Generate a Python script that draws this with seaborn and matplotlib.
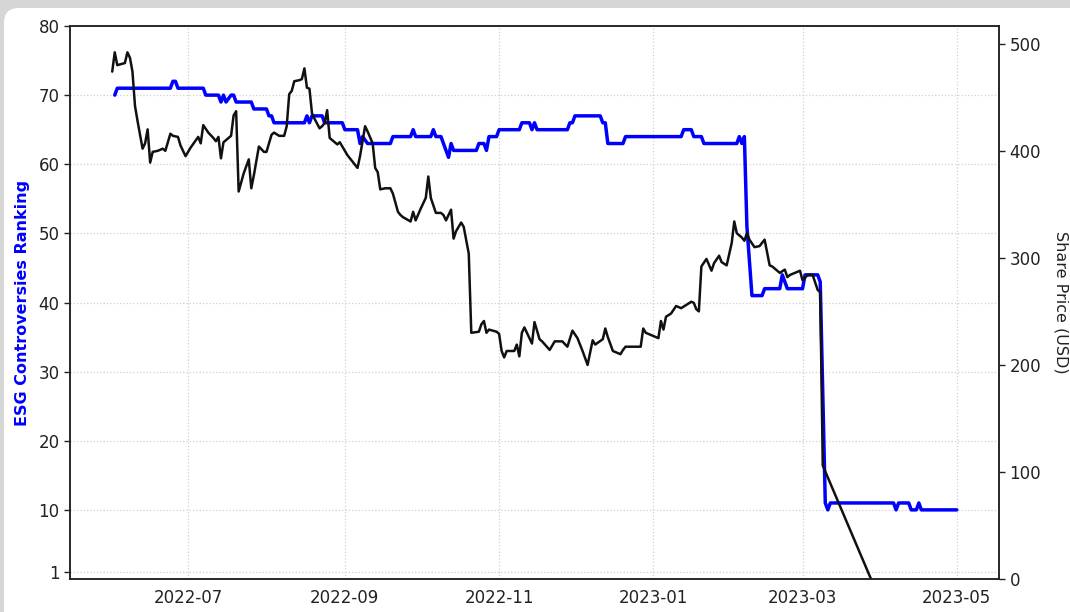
import matplotlib
matplotlib.use("Agg")
import matplotlib.pyplot as plt
import matplotlib.dates as mdates
from matplotlib.patches import FancyBboxPatch
import pandas as pd
import seaborn as sns

# share price (USD)
price_dates = [
    "2022-06-01", "2022-06-02", "2022-06-03", "2022-06-06", "2022-06-07", "2022-06-08",
    "2022-06-09", "2022-06-10", "2022-06-11", "2022-06-13", "2022-06-14", "2022-06-15",
    "2022-06-16", "2022-06-17", "2022-06-19", "2022-06-21", "2022-06-22", "2022-06-24",
    "2022-06-25", "2022-06-27", "2022-06-28", "2022-06-30", "2022-07-02", "2022-07-05",
    "2022-07-06", "2022-07-07", "2022-07-09", "2022-07-11", "2022-07-12", "2022-07-13",
    "2022-07-14", "2022-07-15", "2022-07-18", "2022-07-19", "2022-07-20", "2022-07-21",
    "2022-07-23", "2022-07-25", "2022-07-26", "2022-07-27", "2022-07-29", "2022-07-31",
    "2022-08-01", "2022-08-03", "2022-08-04", "2022-08-06", "2022-08-08", "2022-08-09",
    "2022-08-10", "2022-08-11", "2022-08-12", "2022-08-14", "2022-08-15", "2022-08-16",
    "2022-08-17", "2022-08-18", "2022-08-19", "2022-08-20", "2022-08-22", "2022-08-23",
    "2022-08-24", "2022-08-25", "2022-08-26", "2022-08-28", "2022-08-29", "2022-08-30",
    "2022-08-31", "2022-09-02", "2022-09-04", "2022-09-06", "2022-09-07", "2022-09-09",
    "2022-09-10", "2022-09-12", "2022-09-13", "2022-09-14", "2022-09-15", "2022-09-17",
    "2022-09-19", "2022-09-20", "2022-09-22", "2022-09-23", "2022-09-24", "2022-09-27",
    "2022-09-28", "2022-09-29", "2022-10-01", "2022-10-03", "2022-10-04", "2022-10-05",
    "2022-10-07", "2022-10-09", "2022-10-10", "2022-10-11", "2022-10-13", "2022-10-14",
    "2022-10-15", "2022-10-17", "2022-10-18", "2022-10-20", "2022-10-21", "2022-10-24",
    "2022-10-25", "2022-10-26", "2022-10-27", "2022-10-28", "2022-10-31", "2022-11-01",
    "2022-11-02", "2022-11-03", "2022-11-04", "2022-11-07", "2022-11-08", "2022-11-09",
    "2022-11-10", "2022-11-11", "2022-11-14", "2022-11-15", "2022-11-17", "2022-11-18",
    "2022-11-21", "2022-11-23", "2022-11-26", "2022-11-28", "2022-11-30", "2022-12-02",
    "2022-12-04", "2022-12-06", "2022-12-08", "2022-12-09", "2022-12-12", "2022-12-13",
    "2022-12-14", "2022-12-16", "2022-12-19", "2022-12-20", "2022-12-21", "2022-12-22",
    "2022-12-27", "2022-12-28", "2022-12-29", "2022-12-31", "2023-01-03", "2023-01-04",
    "2023-01-05", "2023-01-06", "2023-01-08", "2023-01-10", "2023-01-12", "2023-01-14",
    "2023-01-16", "2023-01-17", "2023-01-18", "2023-01-19", "2023-01-20", "2023-01-22",
    "2023-01-24", "2023-01-25", "2023-01-27", "2023-01-28", "2023-01-30", "2023-02-01",
    "2023-02-02", "2023-02-03", "2023-02-05", "2023-02-06", "2023-02-07", "2023-02-08",
    "2023-02-10", "2023-02-12", "2023-02-14", "2023-02-16", "2023-02-17", "2023-02-19",
    "2023-02-20", "2023-02-22", "2023-02-23", "2023-02-24", "2023-02-28", "2023-03-01",
    "2023-03-03", "2023-03-05", "2023-03-07", "2023-03-08", "2023-03-09", "2023-03-28",
]
price_values = [
    474, 492, 480, 482, 492, 487,
    474, 442, 428, 402, 407, 420,
    389, 399, 400, 402, 400, 416,
    414, 413, 405, 395, 403, 413,
    407, 424, 417, 412, 409, 413,
    393, 408, 414, 433, 437, 362,
    379, 392, 365, 377, 404, 399,
    399, 415, 417, 414, 414, 423,
    453, 456, 465, 466, 467, 477,
    459, 458, 435, 430, 421, 423,
    426, 438, 412, 408, 406, 408,
    404, 396, 390, 384, 395, 423,
    418, 407, 384, 380, 364, 365,
    365, 360, 343, 340, 338, 334,
    343, 335, 346, 356, 376, 356,
    342, 342, 340, 335, 345, 318,
    325, 333, 329, 304, 230, 231,
    238, 241, 230, 233, 231, 229,
    213, 207, 213, 213, 219, 208,
    230, 235, 220, 240, 224, 222,
    214, 222, 222, 217, 232, 225,
    213, 200, 223, 219, 224, 234,
    226, 213, 210, 214, 217, 217,
    217, 234, 230, 228, 225, 241,
    233, 245, 248, 255, 253, 256,
    259, 258, 252, 250, 292, 299,
    288, 295, 302, 296, 293, 314,
    334, 323, 319, 316, 323, 317,
    310, 311, 317, 293, 292, 288,
    286, 289, 282, 284, 288, 279,
    284, 284, 270, 268, 106, 0.4,
]

# ESG controversies ranking
esg_dates = [
    "2022-06-02", "2022-06-03", "2022-06-24", "2022-06-25", "2022-06-26", "2022-06-27",
    "2022-07-07", "2022-07-08", "2022-07-13", "2022-07-14", "2022-07-15", "2022-07-16",
    "2022-07-18", "2022-07-19", "2022-07-20", "2022-07-26", "2022-07-27", "2022-08-01",
    "2022-08-02", "2022-08-03", "2022-08-04", "2022-08-16", "2022-08-17", "2022-08-18",
    "2022-08-19", "2022-08-23", "2022-08-24", "2022-08-31", "2022-09-01", "2022-09-06",
    "2022-09-07", "2022-09-08", "2022-09-10", "2022-09-19", "2022-09-20", "2022-09-27",
    "2022-09-28", "2022-09-29", "2022-10-05", "2022-10-06", "2022-10-07", "2022-10-09",
    "2022-10-10", "2022-10-12", "2022-10-13", "2022-10-14", "2022-10-23", "2022-10-24",
    "2022-10-26", "2022-10-27", "2022-10-28", "2022-10-31", "2022-11-01", "2022-11-09",
    "2022-11-10", "2022-11-13", "2022-11-14", "2022-11-15", "2022-11-16", "2022-11-28",
    "2022-11-29", "2022-11-30", "2022-12-01", "2022-12-11", "2022-12-12", "2022-12-13",
    "2022-12-14", "2022-12-20", "2022-12-21", "2023-01-12", "2023-01-13", "2023-01-16",
    "2023-01-17", "2023-01-20", "2023-01-21", "2023-02-03", "2023-02-04", "2023-02-05",
    "2023-02-06", "2023-02-07", "2023-02-09", "2023-02-13", "2023-02-14", "2023-02-20",
    "2023-02-21", "2023-02-23", "2023-03-01", "2023-03-02", "2023-03-07", "2023-03-08",
    "2023-03-10", "2023-03-11", "2023-03-12", "2023-04-06", "2023-04-07", "2023-04-08",
    "2023-04-12", "2023-04-13", "2023-04-15", "2023-04-16", "2023-04-17", "2023-05-01",
]
esg_values = [
    70, 71, 71, 72, 72, 71,
    71, 70, 70, 69, 70, 69,
    70, 70, 69, 69, 68, 68,
    67, 67, 66, 66, 67, 66,
    67, 67, 66, 66, 65, 65,
    63, 64, 63, 63, 64, 64,
    65, 64, 64, 65, 64, 64,
    63, 61, 63, 62, 62, 63,
    63, 62, 64, 64, 65, 65,
    66, 66, 65, 66, 65, 65,
    66, 66, 67, 67, 66, 66,
    63, 63, 64, 64, 65, 65,
    64, 64, 63, 63, 64, 63,
    64, 51, 41, 41, 42, 42,
    44, 42, 42, 44, 44, 43,
    11, 10, 11, 11, 10, 11,
    11, 10, 10, 11, 10, 10,
]

esg_ticks = [1, 10, 20, 30, 40, 50, 60, 70, 80]

sns.set_style("white")
plt.rcParams["font.family"] = ["DejaVu Sans"]
plt.rcParams["axes.linewidth"] = 1.1

esg = pd.DataFrame({"date": pd.to_datetime(esg_dates), "ranking": esg_values})
price = pd.DataFrame({"date": pd.to_datetime(price_dates), "price": price_values})

fig = plt.figure(figsize=(10.7, 6.12), dpi=100)
fig.patch.set_facecolor("#d6d6d6")
card = FancyBboxPatch((4 / 1070, -0.05), 1.05, 1.05 - 8 / 612,
                      boxstyle="round,pad=0,rounding_size=0.014",
                      mutation_aspect=1070 / 612, transform=fig.transFigure,
                      facecolor="white", edgecolor="none", zorder=-10)
fig.patches.append(card)

ax1 = fig.add_axes([70 / 1070, 1 - 579 / 612, 929 / 1070, 553 / 612])
ax2 = ax1.twinx()

sns.lineplot(data=esg, x="date", y="ranking", ax=ax1, color="blue", linewidth=2.5)
sns.lineplot(data=price, x="date", y="price", ax=ax2, color="#111111", linewidth=1.8)

ax1.set_ylim(0, 80)
ax1.set_yticks(esg_ticks)
ax2.set_ylim(0, max(price_values) * 1.05)
ax2.set_yticks([0, 100, 200, 300, 400, 500])

ax1.xaxis.set_major_locator(mdates.MonthLocator(bymonth=[1, 3, 5, 7, 9, 11]))
ax1.xaxis.set_major_formatter(mdates.DateFormatter("%Y-%m"))

ax1.grid(True, linestyle=":", color="#d0d0d0", linewidth=0.9)
ax2.grid(False)

ax1.set_xlabel("")
ax1.set_ylabel("ESG Controversies Ranking", color="blue", fontweight="bold",
               fontsize=11.5, labelpad=6)
ax2.set_ylabel("Share Price (USD)", rotation=270, fontsize=11.5, labelpad=20,
               color="#222222")

for ax in (ax1, ax2):
    ax.tick_params(axis="both", which="major", direction="out", length=4,
                   width=1, labelsize=12, colors="#222222")
    for s in ax.spines.values():
        s.set_color("#222222")
        s.set_visible(True)

fig.savefig("out.png", dpi=100)
